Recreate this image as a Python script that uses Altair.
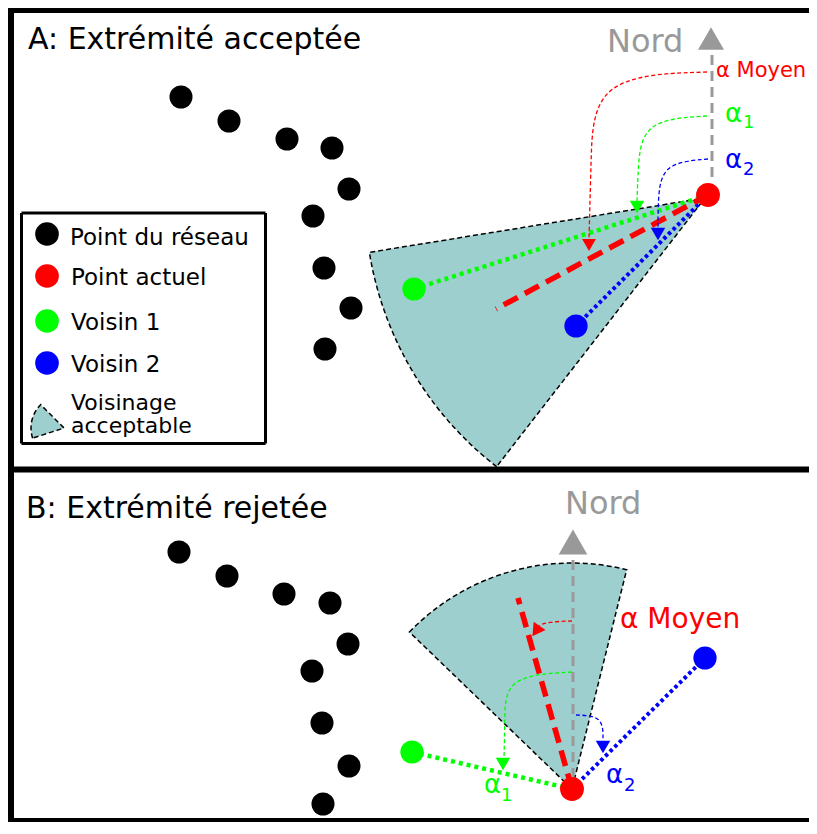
import altair as alt
import pandas as pd

# ---------------- data (figure pixel space, y pointing down) ----------------
# network points, panel A and panel B
net_a_x = [181, 229, 287, 332, 349, 313, 324, 351, 325]
net_a_y = [97, 121, 139, 148, 189, 216, 268, 308, 349]
net_b_x = [179, 227, 284, 330, 348, 312, 322, 349, 323]
net_b_y = [552, 576, 594, 603, 644, 671, 723, 766, 804]

# current point, neighbour 1, neighbour 2 (panel A, panel B)
cur_x = [708, 572]
cur_y = [195, 789]
v1_x = [414, 412]
v1_y = [289, 752]
v2_x = [576, 705]
v2_y = [326, 658]

# mean direction dashed segment end (panel A, panel B)
mean_end_x = [496, 518]
mean_end_y = [309, 598]

# acceptable neighbourhood sectors: apex, radius, bearings (deg, clockwise from north)
sector_x = [705, 572, 64]
sector_y = [198, 789, 428]
sector_r = [340, 226, 33]
sector_t1 = [217.8, 314, 252]
sector_t2 = [260.8, 374, 315]

# north arrows
nord_x = [712, 573]
nord_top = [55, 560]
nord_bot = [182, 782]
nord_tri_y = [38.5, 542]
nord_tri_x = [711, 573]
nord_tri_size = [676, 820]

# legend
legend_labels = ["Point du réseau", "Point actuel", "Voisin 1", "Voisin 2"]
legend_colors = ["#000000", "#ff0000", "#00ff00", "#0000ff"]
legend_sym_y = [234, 276, 321, 363]
legend_txt_y = [245, 285, 330, 372]

# angle curves (control points)
curve_id = ["aR"] * 4 + ["aG"] * 4 + ["aB"] * 4 + ["bR"] * 3 + ["bG"] * 4 + ["bB"] * 3
curve_x = [707, 594, 591, 589, 707, 642, 638, 637, 708, 662, 658, 658,
           572, 543, 537, 572, 505, 505, 504, 576, 603, 603]
curve_y = [72, 76, 160, 240, 116, 120, 170, 202, 159, 163, 200, 228,
           621, 622, 628, 672, 676, 720, 757, 715, 716, 740]
curve_col = ["#ff0000"] * 4 + ["#00ff00"] * 4 + ["#0000ff"] * 4 + ["#ff0000"] * 3 + ["#00ff00"] * 4 + ["#0000ff"] * 3

# arrow heads
head_x = [589, 637, 658, 536, 503, 603]
head_y = [245, 207, 234, 631, 764, 747]
head_ang = [0, 0, 0, 35, 0, 0]
head_col = ["#ff0000", "#00ff00", "#0000ff", "#ff0000", "#00ff00", "#0000ff"]

# texts
txt = ["A: Extrémité acceptée", "B: Extrémité rejetée", "Nord", "Nord",
       "α Moyen", "α", "1", "α", "2",
       "α Moyen", "α", "1", "α", "2",
       "Voisinage", "acceptable"] + legend_labels
txt_x = [28, 26, 607, 565,
         716, 725, 743, 725, 743,
         620, 484, 501, 606, 624,
         71, 71] + [70, 71, 71, 71]
txt_y = [49, 518, 52, 514,
         77, 122, 128, 168, 175,
         628, 793, 801, 783, 791,
         410, 433] + legend_txt_y
txt_col = ["#000000", "#000000", "#999999", "#999999",
           "#ff0000", "#00ff00", "#00ff00", "#0000ff", "#0000ff",
           "#ff0000", "#00ff00", "#00ff00", "#0000ff", "#0000ff",
           "#000000", "#000000"] + ["#000000"] * 4
txt_fs = [30, 30, 32, 32,
          21, 26, 18, 26, 18,
          28, 26, 18, 26, 18,
          22, 22] + [23] * 4

# frame lines (panel borders and legend box)
frame_x1 = [8, 11, 8, 8, 21.5, 265.5, 265.5, 21.5]
frame_y1 = [10.5, 8, 469.5, 820, 213, 213, 443.5, 443.5]
frame_x2 = [809, 11, 809, 809, 265.5, 265.5, 21.5, 21.5]
frame_y2 = [10.5, 834, 469.5, 820, 213, 443.5, 443.5, 213]
frame_w = [5, 6, 6, 4, 3, 3, 3, 3]

# ---------------- tables ----------------
X_SCALE = alt.Scale(domain=[8, 809], zero=False, nice=False)
Y_SCALE = alt.Scale(domain=[8, 822], zero=False, nice=False, reverse=True)


def X(f):
    return alt.X(f"{f}:Q", scale=X_SCALE, axis=None)


def Y(f):
    return alt.Y(f"{f}:Q", scale=Y_SCALE, axis=None)


sectors = pd.DataFrame(dict(x=sector_x, y=sector_y, r=sector_r, t1=sector_t1, t2=sector_t2))
nord_lines = pd.DataFrame(dict(x=nord_x, y=nord_top, y2=nord_bot))
green_lines = pd.DataFrame(dict(x=v1_x, y=v1_y, x2=cur_x, y2=cur_y))
blue_lines = pd.DataFrame(dict(x=v2_x, y=v2_y, x2=cur_x, y2=cur_y))
mean_lines = pd.DataFrame(dict(x=cur_x, y=cur_y, x2=mean_end_x, y2=mean_end_y))
curves = pd.DataFrame(dict(c=curve_id, x=curve_x, y=curve_y, col=curve_col, i=list(range(len(curve_x)))))
heads = pd.DataFrame(dict(x=head_x + nord_tri_x, y=head_y + nord_tri_y,
                          ang=head_ang + [0, 0],
                          col=head_col + ["#999999", "#999999"],
                          shape=["triangle-down"] * 6 + ["triangle-up"] * 2,
                          s=[190, 210, 210, 210, 210, 210] + nord_tri_size))
pts = pd.DataFrame(dict(
    x=net_a_x + net_b_x + cur_x + v1_x + v2_x + [47] * 4,
    y=net_a_y + net_b_y + cur_y + v1_y + v2_y + legend_sym_y,
    col=["#000000"] * 18 + ["#ff0000"] * 2 + ["#00ff00"] * 2 + ["#0000ff"] * 2 + legend_colors,
    s=[531] * 18 + [570] * 2 + [540] * 4 + [560] * 4,
))
texts = pd.DataFrame(dict(t=txt, x=txt_x, y=txt_y, col=txt_col, fs=txt_fs))
frame = pd.DataFrame(dict(x=frame_x1, y=frame_y1, x2=frame_x2, y2=frame_y2, w=frame_w))

# ---------------- layers ----------------
sector_layer = alt.Chart(sectors).transform_calculate(
    a1="datum.t1 * PI / 180", a2="datum.t2 * PI / 180"
).mark_arc(fill="#9ecfcf", stroke="#000000", strokeDash=[5, 3], strokeWidth=1.5).encode(
    x=X("x"), y=Y("y"),
    radius=alt.Radius("r:Q", scale=alt.Scale(type="linear", domain=[0, 801], range=[0, 801])),
    theta=alt.Theta("a1:Q", scale=None, stack=None),
    theta2=alt.Theta2("a2:Q"),
)

nord_layer = alt.Chart(nord_lines).mark_rule(color="#999999", strokeWidth=3, strokeDash=[10, 6]).encode(
    x=X("x"), y=Y("y"), y2=alt.Y2("y2:Q"))

green_layer = alt.Chart(green_lines).mark_rule(color="#00ff00", strokeWidth=4.5, strokeDash=[4, 4]).encode(
    x=X("x"), y=Y("y"), x2=alt.X2("x2:Q"), y2=alt.Y2("y2:Q"))
blue_layer = alt.Chart(blue_lines).mark_rule(color="#0000ff", strokeWidth=4, strokeDash=[3.5, 3]).encode(
    x=X("x"), y=Y("y"), x2=alt.X2("x2:Q"), y2=alt.Y2("y2:Q"))
mean_layer = alt.Chart(mean_lines).mark_rule(color="#ff0000", strokeWidth=5.5, strokeDash=[16, 8]).encode(
    x=X("x"), y=Y("y"), x2=alt.X2("x2:Q"), y2=alt.Y2("y2:Q"))

curve_layer = alt.Chart(curves).mark_line(interpolate="basis", strokeWidth=1.3, strokeDash=[4, 2.5]).encode(
    x=X("x"), y=Y("y"), detail="c:N", order="i:Q", color=alt.Color("col:N", scale=None))

head_layer = alt.Chart(heads).mark_point(filled=True, opacity=1, strokeWidth=0).encode(
    x=X("x"), y=Y("y"),
    shape=alt.Shape("shape:N", scale=None),
    size=alt.Size("s:Q", scale=None),
    color=alt.Color("col:N", scale=None),
    angle=alt.Angle("ang:Q", scale=None))

pts_layer = alt.Chart(pts).mark_circle(opacity=1).encode(
    x=X("x"), y=Y("y"), size=alt.Size("s:Q", scale=None), color=alt.Color("col:N", scale=None))

text_layer = alt.Chart(texts).mark_text(align="left", baseline="alphabetic", font="DejaVu Sans").encode(
    x=X("x"), y=Y("y"), text="t:N", size=alt.Size("fs:Q", scale=None), color=alt.Color("col:N", scale=None))

frame_layer = alt.Chart(frame).mark_rule(color="#000000", strokeCap="butt").encode(
    x=X("x"), y=Y("y"), x2=alt.X2("x2:Q"), y2=alt.Y2("y2:Q"), size=alt.Size("w:Q", scale=None))

chart = alt.layer(
    sector_layer, nord_layer, green_layer, blue_layer, mean_layer, curve_layer,
    head_layer, pts_layer, text_layer, frame_layer
).properties(
    width=801, height=814, padding=0, background="white",
    autosize=alt.AutoSizeParams(type="none"),
).configure_view(strokeWidth=0)

chart.save("out.html", embed_options={"renderer": "svg", "actions": False})
